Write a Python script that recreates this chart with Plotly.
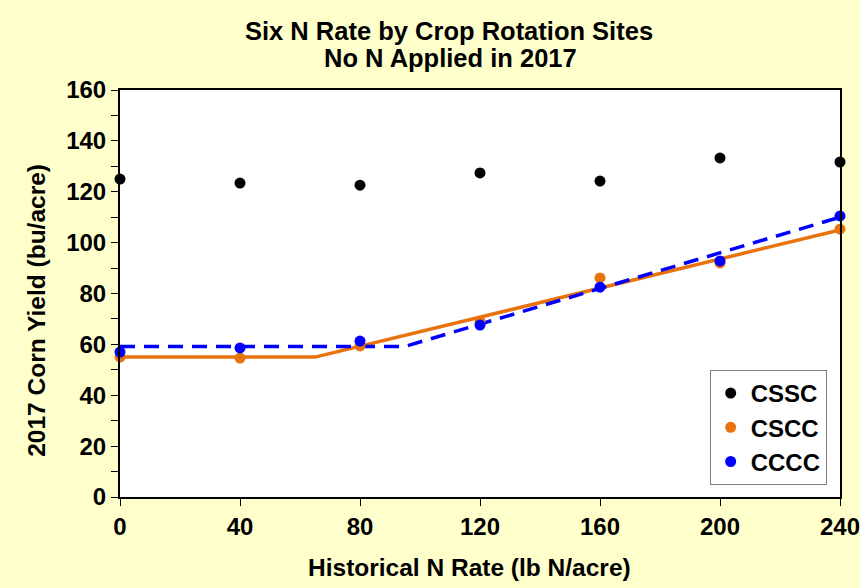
import plotly.graph_objects as go

n_rate = [0, 40, 80, 120, 160, 200, 240]
cssc = [125.0, 123.4, 122.6, 127.4, 124.2, 133.3, 131.7]
cscc = [55.0, 54.6, 59.4, 69.0, 86.1, 92.0, 105.3]
cccc = [57.0, 58.6, 61.3, 67.6, 82.5, 92.8, 110.5]

cscc_fit_x = [0, 65, 240]
cscc_fit_y = [55.0, 55.0, 105.0]
cccc_fit_x = [0, 95, 240]
cccc_fit_y = [59.2, 59.2, 110.0]

title_lines = ["Six N Rate by Crop Rotation Sites", "No N Applied in 2017"]
x_title = "Historical N Rate (lb N/acre)"
y_title = "2017 Corn Yield (bu/acre)"

FONT = "Liberation Sans, Arial, sans-serif"
ORANGE = "#E8720C"
BLUE = "#0000FF"

fig = go.Figure()
fig.add_trace(go.Scatter(x=cscc_fit_x, y=cscc_fit_y, mode="lines",
                         line=dict(color=ORANGE, width=3.5), showlegend=False,
                         cliponaxis=False, hoverinfo="skip"))
fig.add_trace(go.Scatter(x=cccc_fit_x, y=cccc_fit_y, mode="lines",
                         line=dict(color=BLUE, width=3.5, dash="15px,9px"), showlegend=False,
                         cliponaxis=False, hoverinfo="skip"))
fig.add_trace(go.Scatter(x=n_rate, y=cssc, mode="markers", name="CSSC",
                         marker=dict(color="black", size=11), cliponaxis=False))
fig.add_trace(go.Scatter(x=n_rate, y=cscc, mode="markers", name="CSCC",
                         marker=dict(color=ORANGE, size=11), cliponaxis=False))
fig.add_trace(go.Scatter(x=n_rate, y=cccc, mode="markers", name="CCCC",
                         marker=dict(color=BLUE, size=11), cliponaxis=False))

annos = [
    dict(text=f"<b>{title_lines[0]}</b>", x=0.457, y=1.145, font=dict(size=25.5)),
    dict(text=f"<b>{title_lines[1]}</b>", x=0.459, y=1.0786, font=dict(size=25.5)),
    dict(text=f"<b>{x_title}</b>", x=0.485, y=-0.1744, font=dict(size=24.5)),
    dict(text=f"<b>{y_title}</b>", x=-0.1153, y=0.46, textangle=-90, font=dict(size=24.5)),
]
for a in annos:
    a.update(xref="paper", yref="paper", xanchor="center", yanchor="middle", showarrow=False)
    a["font"].update(family=FONT, color="black")

fig.update_layout(
    width=860, height=588,
    paper_bgcolor="#FFFFCC", plot_bgcolor="white",
    margin=dict(l=120, r=20, t=90, b=91),
    font=dict(family=FONT, size=24, color="black"),
    annotations=annos,
    showlegend=True,
    legend=dict(x=0.819, y=0.0295, xanchor="left", yanchor="bottom",
                bgcolor="white", bordercolor="#808080", borderwidth=1,
                font=dict(family=FONT, size=24, color="black", weight="bold"),
                itemwidth=30),
)
fig.update_xaxes(
    range=[0, 240], tickvals=n_rate, ticktext=[f"<b>{v}</b>" for v in n_rate],
    ticks="outside", ticklen=7, tickwidth=1, tickcolor="black",
    showline=True, linecolor="black", linewidth=2, mirror=True,
    showgrid=False, zeroline=False, automargin=False,
    ticklabeloverflow="allow",
    tickfont=dict(family=FONT, size=24),
)
yt = list(range(0, 161, 20))
fig.update_yaxes(
    range=[0, 160], tickvals=yt, ticktext=[f"<b>{v}</b>" for v in yt],
    ticks="outside", ticklen=7, tickwidth=1, tickcolor="black",
    minor=dict(dtick=10, ticks="outside", ticklen=7, tickwidth=1, tickcolor="black"),
    showline=True, linecolor="black", linewidth=2, mirror=True,
    showgrid=False, zeroline=False, automargin=False,
    ticklabeloverflow="allow",
    tickfont=dict(family=FONT, size=24),
)

fig.write_html("out.html", config={"displayModeBar": False},
               post_script="document.body.style.margin='0';")
